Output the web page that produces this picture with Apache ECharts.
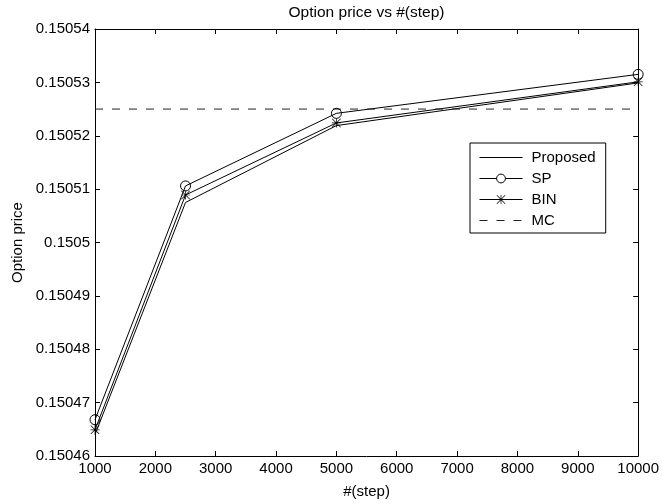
<!DOCTYPE html>
<html>
<head>
<meta charset="utf-8">
<script src="https://cdn.jsdelivr.net/npm/echarts@6/dist/echarts.min.js"></script>
<style>html,body{margin:0;padding:0;background:#fff}#c{width:662px;height:504px}</style>
</head>
<body>
<div id="c"></div>
<script>
var steps = [1000, 2500, 5000, 10000];
var proposed = [0.1504640, 0.1505075, 0.1505219, 0.1505299];
var sp = [0.1504668, 0.1505106, 0.1505242, 0.1505315];
var bin = [0.1504649, 0.1505089, 0.1505224, 0.1505301];
var mcValue = 0.150525;
var mcSteps = [1000, 10000];
var yTicks = {min: 0.15046, max: 0.15054, interval: 0.00001};
var xTicks = {min: 1000, max: 10000, interval: 1000};

function pairs(xs, ys) { return xs.map(function (x, i) { return [x, ys[i]]; }); }
var FONT = "'Liberation Sans', Arial, Helvetica, sans-serif";
var star = 'path://M9.2,0 L10.8,0 L10.8,20 L9.2,20 Z M0,9.2 L20,9.2 L20,10.8 L0,10.8 Z M0,1.1 L1.1,0 L20,18.9 L18.9,20 Z M18.9,0 L20,1.1 L1.1,20 L0,18.9 Z';

var chart = echarts.init(document.getElementById('c'), null, {renderer: 'canvas'});
var tick = {inside: true, length: 5, lineStyle: {color: '#000', width: 1}};
var axLine = {show: true, lineStyle: {color: '#000', width: 1}};
var lbl = {color: '#000', fontSize: 15, fontFamily: FONT};
chart.setOption({
  animation: false,
  backgroundColor: '#fff',
  title: {text: 'Option price vs #(step)', left: 361.5, top: 0, textAlign: 'center',
    textStyle: {fontSize: 15.5, fontWeight: 'normal', color: '#000', fontFamily: FONT}},
  grid: {left: 95, right: 22, top: 29, bottom: 46, containLabel: false},
  legend: {
    orient: 'vertical', left: 470, top: 143,
    backgroundColor: '#fff', borderColor: '#000', borderWidth: 1,
    padding: [7, 10, 5, 9], itemWidth: 43, itemHeight: 11, itemGap: 6,
    lineStyle: {width: 1},
    textStyle: {fontSize: 15, color: '#000', fontFamily: FONT, padding: [0, 0, 0, 4]},
    data: [
      {name: 'Proposed', itemStyle: {opacity: 0}},
      {name: 'SP', itemStyle: {color: '#fff', borderColor: '#000', borderWidth: 1}},
      {name: 'BIN'},
      {name: 'MC', itemStyle: {opacity: 0}}
    ]
  },
  xAxis: [
    {type: 'value', position: 'bottom', min: xTicks.min, max: xTicks.max, interval: xTicks.interval,
      axisLine: axLine, axisTick: tick, splitLine: {show: false},
      axisLabel: Object.assign({margin: 5, formatter: function (v) { return String(v); }}, lbl),
      name: '#(step)', nameLocation: 'middle', nameGap: 28,
      nameTextStyle: {fontSize: 15, color: '#000', fontFamily: FONT}},
    {type: 'value', position: 'top', min: xTicks.min, max: xTicks.max, interval: xTicks.interval,
      axisLine: axLine, axisTick: tick, splitLine: {show: false}, axisLabel: {show: false}}
  ],
  yAxis: [
    {type: 'value', position: 'left', min: yTicks.min, max: yTicks.max, interval: yTicks.interval,
      axisLine: axLine, axisTick: tick, splitLine: {show: false},
      axisLabel: Object.assign({margin: 5, formatter: function (v) { return parseFloat(v.toFixed(5)).toString(); }}, lbl),
      name: 'Option price', nameLocation: 'middle', nameGap: 67, nameRotate: 90,
      nameTextStyle: {fontSize: 15, color: '#000', fontFamily: FONT}},
    {type: 'value', position: 'right', min: yTicks.min, max: yTicks.max, interval: yTicks.interval,
      axisLine: axLine, axisTick: tick, splitLine: {show: false}, axisLabel: {show: false}}
  ],
  series: [
    {name: 'Proposed', type: 'line', data: pairs(steps, proposed), showSymbol: false, symbol: 'none',
      lineStyle: {color: '#000', width: 1}, itemStyle: {color: '#000'}},
    {name: 'SP', type: 'line', data: pairs(steps, sp), symbol: 'circle', symbolSize: 10,
      lineStyle: {color: '#000', width: 1}, itemStyle: {color: 'rgba(255,255,255,0)', borderColor: '#000', borderWidth: 1}},
    {name: 'BIN', type: 'line', data: pairs(steps, bin), symbol: star, symbolSize: 9,
      lineStyle: {color: '#000', width: 1}, itemStyle: {color: '#000'}},
    {name: 'MC', type: 'line', data: pairs(mcSteps, [mcValue, mcValue]), symbol: 'none',
      lineStyle: {color: '#222', width: 1, type: [8, 9]}, itemStyle: {color: '#222'}}
  ]
});
</script>
</body>
</html>
